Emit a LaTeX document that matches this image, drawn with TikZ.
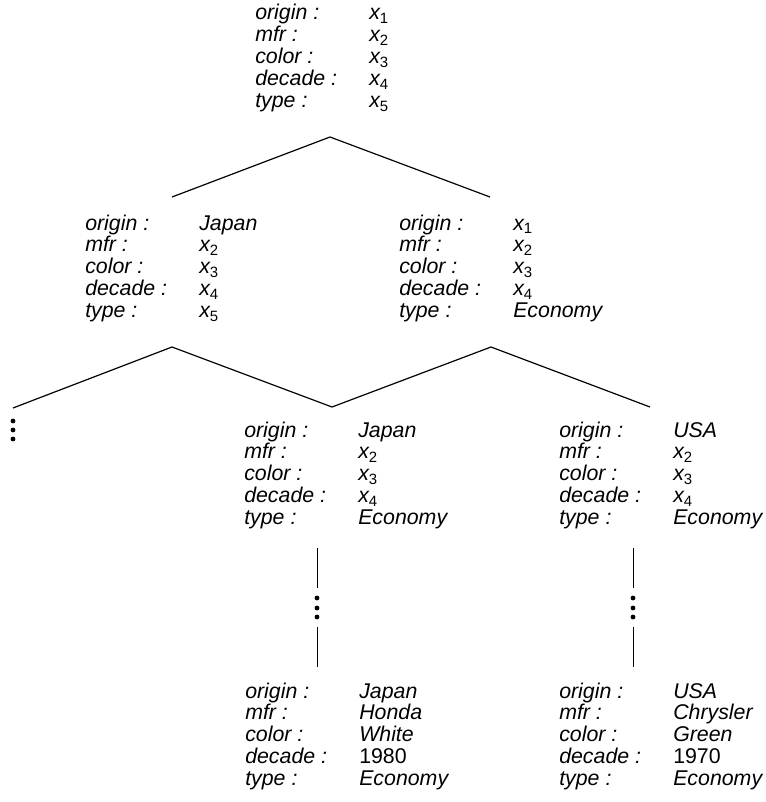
\documentclass[tikz,border=0pt]{standalone}
\usepackage{fontspec}
\setsansfont{Liberation Sans}
\usetikzlibrary{positioning}
\newcommand{\xs}[1]{x\textsubscript{\upshape #1}}
\newcommand{\attrs}[5]{\begin{tabular}[t]{@{}p{85.5pt}@{}l@{}}
  origin : & #1\\ mfr : & #2\\ color : & #3\\ decade : & #4\\ type : & #5
\end{tabular}}

\begin{document}
\begin{tikzpicture}[x=0.75pt, y=-0.75pt,
    record/.style={inner sep=0pt, anchor=base west,
      font=\fontsize{16}{16.3}\selectfont\sffamily\itshape},
    branch/.style={line width=0.9pt, black},
    vdot/.style={circle, fill=black, inner sep=0pt, minimum size=3.6pt}]
  \useasboundingbox (0,0) rectangle (766,802);
  % records
  \node[record] (root) at (255,20) {\attrs{\xs1}{\xs2}{\xs3}{\xs4}{\xs5}};
  \node[record] (japan) at (85,230) {\attrs{Japan}{\xs2}{\xs3}{\xs4}{\xs5}};
  \node[record] (economy) at (399,230) {\attrs{\xs1}{\xs2}{\xs3}{\xs4}{Economy}};
  \node[record] (japaneco) at (244,437) {\attrs{Japan}{\xs2}{\xs3}{\xs4}{Economy}};
  \node[record] (usaeco) at (559,437) {\attrs{USA}{\xs2}{\xs3}{\xs4}{Economy}};
  \node[record] (honda) at (245,698) {\attrs{Japan}{Honda}{White}{\upshape 1980}{Economy}};
  \node[record] (chrysler) at (559,698) {\attrs{USA}{Chrysler}{Green}{\upshape 1970}{Economy}};
  % branch points
  \coordinate (rootfork) at (330,137);
  \coordinate (japanin) at (172,197);
  \coordinate (economyin) at (490,197);
  \coordinate (japanfork) at (172,347);
  \coordinate (economyfork) at (491,347);
  \coordinate (otherin) at (13,408);
  \coordinate (japanecoin) at (332,407);
  \coordinate (usaecoin) at (650,407);
  \draw[branch] (japanin) -- (rootfork) -- (economyin);
  \draw[branch] (otherin) -- (japanfork) -- (japanecoin) -- (economyfork) -- (usaecoin);
  % elided subtree on the left
  \foreach \y [count=\i] in {421,430,439}
    \node[vdot] (other\i) at (13,\y) {};
  % chains down to the leaves
  \foreach \name/\x in {japan/317,usa/633} {
    \coordinate (\name top) at (\x,548);
    \coordinate (\name mid) at (\x,588);
    \coordinate (\name low) at (\x,627);
    \coordinate (\name leaf) at (\x,667);
    \draw[line width=0.7pt] (\name top) -- (\name mid);
    \draw[line width=0.7pt] (\name low) -- (\name leaf);
    \foreach \y [count=\i] in {598,608,617}
      \node[vdot] (\name dot\i) at (\x,\y) {};
  }
\end{tikzpicture}
\end{document}
